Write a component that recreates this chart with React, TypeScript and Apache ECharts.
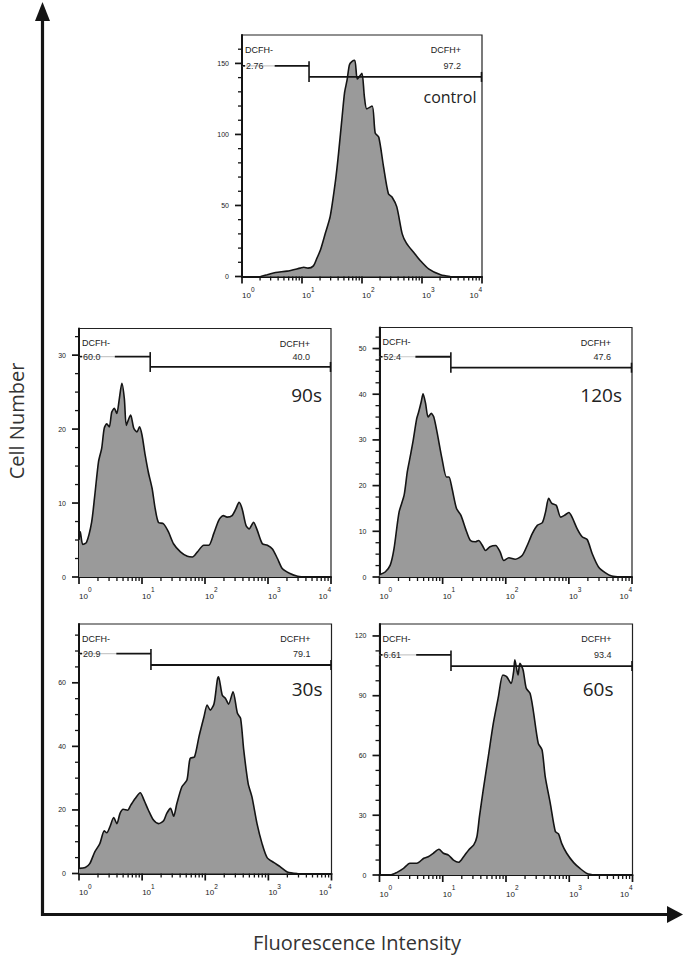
import React, { useEffect, useRef } from "react";
import * as echarts from "echarts";

// ---------------- data ----------------
const panelNames = ["control", "90s", "120s", "30s", "60s"];
const negGateLabel = "DCFH-";
const posGateLabel = "DCFH+";
const negPercent = ["2.76", "60.0", "52.4", "20.9", "6.61"];
const posPercent = ["97.2", "40.0", "47.6", "79.1", "93.4"];
const xAxisTitle = "Fluorescence Intensity";
const yAxisTitle = "Cell Number";

const yMax = [170, 33.6, 54.6, 78.5, 126];
const yMajorTicks = [
  [0, 50, 100, 150],
  [0, 10, 20, 30],
  [0, 10, 20, 30, 40, 50],
  [0, 20, 40, 60],
  [0, 30, 60, 90, 120],
];
const yMinorStep = [10, 2.5, 2.5, 5, 7.5];
const xMin = 1;
const xMax = 10000;
const xMajorTicks = [1, 10, 100, 1000, 10000];
const xMinorTicks = [
  2, 3, 4, 5, 6, 7, 8, 9, 20, 30, 40, 50, 60, 70, 80, 90, 200, 300, 400, 500,
  600, 700, 800, 900, 2000, 3000, 4000, 5000, 6000, 7000, 8000, 9000,
];

// histograms: position in decades (log10 of intensity) and cell counts
const controlLog = [0.31, 0.42, 0.56, 0.75, 0.97, 1.03, 1.1, 1.19, 1.25, 1.31, 1.39, 1.47, 1.56, 1.61, 1.67, 1.71, 1.75, 1.79, 1.83, 1.88, 1.92, 1.96, 2.0, 2.04, 2.08, 2.17, 2.22, 2.28, 2.36, 2.44, 2.5, 2.58, 2.67, 2.74, 2.86, 2.97, 3.11, 3.31, 3.47];
const controlCount = [0, 1.2, 2.8, 3.8, 5.9, 6.5, 5.9, 7.5, 13, 19, 30.6, 42.3, 68, 87, 113, 129.6, 138, 149, 151.3, 152.2, 139, 141, 143, 126.5, 118, 120, 101, 98, 77, 58.3, 56, 49, 30, 23.5, 17, 11.3, 5.4, 1.2, 0];

const s90Log = [0.0, 0.02, 0.06, 0.12, 0.2, 0.25, 0.31, 0.36, 0.4, 0.44, 0.48, 0.52, 0.56, 0.6, 0.64, 0.68, 0.72, 0.75, 0.79, 0.82, 0.87, 0.92, 0.96, 1.0, 1.05, 1.1, 1.16, 1.21, 1.26, 1.34, 1.42, 1.5, 1.61, 1.72, 1.8, 1.88, 1.98, 2.06, 2.14, 2.22, 2.29, 2.35, 2.43, 2.49, 2.54, 2.59, 2.65, 2.7, 2.77, 2.83, 2.91, 2.99, 3.07, 3.15, 3.23, 3.34, 3.47, 3.63];
const s90Count = [5.0, 6.1, 4.4, 4.7, 7.4, 11, 15.6, 17.4, 20.1, 20.7, 20.3, 22.3, 22.8, 22.1, 24.1, 26.2, 24.1, 20.5, 21.4, 21.9, 20.1, 19.6, 20.3, 19.2, 16.5, 14.2, 12, 9.2, 7.4, 7.2, 6.1, 4.5, 3.4, 2.8, 2.7, 3.4, 4.3, 4.3, 5.9, 7.7, 8.3, 8.1, 8.3, 9.2, 10.1, 9.2, 7, 6.5, 7.4, 6.3, 4.5, 4.3, 3.8, 2.5, 1.1, 0.5, 0.1, 0];

const s120Log = [0.0, 0.09, 0.17, 0.23, 0.31, 0.39, 0.44, 0.49, 0.53, 0.59, 0.62, 0.66, 0.69, 0.73, 0.77, 0.82, 0.86, 0.91, 0.99, 1.06, 1.1, 1.15, 1.22, 1.29, 1.38, 1.44, 1.52, 1.57, 1.63, 1.68, 1.75, 1.84, 1.91, 1.97, 2.05, 2.15, 2.26, 2.34, 2.42, 2.5, 2.58, 2.63, 2.68, 2.73, 2.8, 2.87, 2.93, 3.0, 3.05, 3.13, 3.21, 3.29, 3.37, 3.47, 3.58, 3.68, 3.82];
const s120Count = [0.5, 1.1, 2.6, 6.2, 14.2, 17.9, 23, 26.6, 29.6, 34.7, 36.1, 38.3, 40.1, 38, 35, 35.8, 35, 31.8, 25.9, 21.9, 21.9, 19.3, 15, 13.5, 9.9, 8, 7.7, 8, 6.9, 5.8, 6.6, 6.9, 5.5, 3.6, 4.2, 3.9, 4.7, 6.9, 9.5, 11.3, 11.9, 14.2, 17.2, 16.1, 15.7, 13.1, 13.5, 14.1, 13.1, 10.6, 8.8, 8.2, 5.1, 2.2, 0.9, 0.2, 0];

const s30Log = [0.0, 0.1, 0.17, 0.25, 0.33, 0.4, 0.44, 0.49, 0.55, 0.6, 0.65, 0.7, 0.77, 0.82, 0.89, 0.97, 1.03, 1.1, 1.18, 1.26, 1.34, 1.39, 1.45, 1.5, 1.55, 1.63, 1.71, 1.76, 1.83, 1.9, 1.98, 2.03, 2.08, 2.14, 2.19, 2.21, 2.27, 2.32, 2.37, 2.44, 2.51, 2.56, 2.61, 2.68, 2.74, 2.82, 2.9, 2.98, 3.09, 3.19, 3.3, 3.46];
const s30Count = [1.6, 1.9, 3.1, 6.8, 9.4, 13.4, 12.8, 14.7, 17.6, 15.7, 18.9, 20.2, 19.9, 21.5, 23.6, 25.4, 23.1, 19.9, 16.8, 15.7, 16.6, 18.9, 20.5, 18, 22, 27.3, 29.4, 36.2, 36.7, 43, 49.3, 53, 51.4, 53.5, 60.8, 61.9, 56.1, 55.1, 53.3, 57.2, 50.4, 48.8, 38.8, 28.3, 24.1, 15.7, 9.4, 5, 3.4, 2.1, 0.5, 0];

const s60Log = [0.0, 0.17, 0.27, 0.38, 0.48, 0.59, 0.7, 0.77, 0.85, 0.94, 1.01, 1.09, 1.17, 1.25, 1.33, 1.41, 1.49, 1.54, 1.58, 1.64, 1.72, 1.8, 1.88, 1.95, 2.01, 2.08, 2.12, 2.14, 2.19, 2.22, 2.27, 2.32, 2.38, 2.43, 2.51, 2.57, 2.62, 2.7, 2.78, 2.83, 2.88, 2.96, 3.07, 3.17, 3.28, 3.41];
const s60Count = [0, 0, 1.2, 3.3, 5.9, 5.9, 8.4, 9.2, 10.9, 12.9, 10.9, 10, 7.5, 6.4, 9.2, 12.6, 15.1, 19.2, 29.3, 42.7, 59.4, 76.2, 89.5, 100.4, 99.6, 96.2, 102, 108, 100.4, 106.3, 102.9, 93.7, 91.2, 82.8, 66.1, 62.8, 49.4, 36, 21.8, 20.6, 15.9, 10.9, 6.2, 3.3, 0.8, 0];

const histLogs = [controlLog, s90Log, s120Log, s30Log, s60Log];
const histCounts = [controlCount, s90Count, s120Count, s30Count, s60Count];

// gates (intensity units / count units)
const gateSplit = [13.1, 13.5, 13.5, 13.8, 13.5];
const gateDarkStart = [3.5, 3.7, 3.7, 3.9, 3.8];
const gateNegLevel = [148.3, 29.8, 48.2, 69.2, 110.5];
const gatePosLevel = [140.5, 28.4, 45.8, 65.6, 104.9];

// ---------------- layout ----------------
const layout = [
  { left: 242, top: 35, width: 240, height: 241.5, labelRight: 5.5, labelDy: 62, labelSize: 16 },
  { left: 79, top: 328.5, width: 252, height: 248.5, labelRight: 9, labelDy: 66.5, labelSize: 19 },
  { left: 379.5, top: 327.5, width: 252.5, height: 249.5, labelRight: 10, labelDy: 67.5, labelSize: 19 },
  { left: 79, top: 624, width: 252.5, height: 249.5, labelRight: 9, labelDy: 65, labelSize: 19 },
  { left: 379.5, top: 624, width: 253, height: 251, labelRight: 19, labelDy: 65, labelSize: 19 },
];

const INK = "#141414";
const SMALL_FONT = '"Liberation Sans", Arial, sans-serif';
const TITLE_FONT = '"Open Sans", "Noto Sans", sans-serif';
const MAJOR_LEN = 7;
const MINOR_LEN = 4;

function minorValues(max: number, step: number, majors: number[]) {
  const out: number[] = [];
  for (let v = step; v < max; v += step) {
    if (!majors.some((m) => Math.abs(m - v) < 1e-6)) out.push(v);
  }
  return out;
}

export default function App() {
  const ref = useRef<HTMLDivElement>(null);

  useEffect(() => {
    if (!ref.current) return;
    const chart = echarts.init(ref.current, undefined, { renderer: "svg" });

    const grids: any[] = [];
    const xAxes: any[] = [];
    const yAxes: any[] = [];
    const series: any[] = [];

    layout.forEach((L, i) => {
      grids.push({
        left: L.left,
        top: L.top,
        width: L.width,
        height: L.height,
        show: true,
        borderColor: "#222",
        borderWidth: 1.2,
        backgroundColor: "transparent",
        containLabel: false,
      });
      xAxes.push({
        type: "log",
        logBase: 10,
        gridIndex: i,
        position: "bottom",
        min: xMin,
        max: xMax,
        axisLine: { show: true, onZero: false, lineStyle: { color: INK, width: 2 } },
        axisTick: { show: false },
        splitLine: { show: false },
        axisLabel: {
          show: true,
          margin: 9,
          align: "left",
          alignMaxLabel: "right",
          formatter: (v: number) => `{b|10}{s|${Math.round(Math.log10(v))}}`,
          rich: {
            b: { fontSize: 8, lineHeight: 20, fontFamily: SMALL_FONT, color: "#1a1a1a" },
            s: { fontSize: 6.5, lineHeight: 7, verticalAlign: "top", fontFamily: SMALL_FONT, color: "#1a1a1a" },
          },
        },
      });
      yAxes.push({
        type: "value",
        gridIndex: i,
        position: "left",
        min: 0,
        max: yMax[i],
        axisLine: { show: true, onZero: false, lineStyle: { color: INK, width: 2 } },
        axisTick: { show: false },
        axisLabel: {
          show: true,
          customValues: yMajorTicks[i],
          margin: 13,
          fontSize: 7,
          fontFamily: SMALL_FONT,
          color: "#1a1a1a",
        },
        splitLine: { show: false },
      });
      series.push({
        type: "line",
        name: panelNames[i],
        xAxisIndex: i,
        yAxisIndex: i,
        data: histLogs[i].map((d, k) => [Math.pow(10, d), histCounts[i][k]]),
        showSymbol: false,
        symbol: "none",
        smooth: 0.25,
        lineStyle: { color: INK, width: 1.6 },
        areaStyle: { color: "#9a9a9a", opacity: 1 },
        z: 2,
      });
    });

    chart.setOption({
      animation: false,
      backgroundColor: "#ffffff",
      grid: grids,
      xAxis: xAxes,
      yAxis: yAxes,
      series,
    });

    const g: any[] = [];
    const line = (x1: number, y1: number, x2: number, y2: number, stroke: string, lw: number) => ({
      type: "line",
      z: 100,
      shape: { x1, y1, x2, y2 },
      style: { stroke, lineWidth: lw },
    });
    const text = (x: number, y: number, t: string, font: string, align: string, fill: string, extra: any = {}) => ({
      type: "text",
      z: 101,
      x,
      y,
      ...extra,
      style: {
        text: t,
        font,
        fill,
        align,
        textAlign: align,
        verticalAlign: "middle",
        textVerticalAlign: "middle",
      },
    });

    layout.forEach((L, i) => {
      const toPx = (x: number, y: number) => chart.convertToPixel({ seriesIndex: i }, [x, y]) as number[];
      const right = L.left + L.width;
      const bottom = L.top + L.height;

      // ticks: log decades with 2..9 minors on x, linear majors/minors on y
      xMajorTicks.forEach((v) => {
        const p = toPx(v, 0);
        g.push(line(p[0], bottom, p[0], bottom + MAJOR_LEN, INK, 1.7));
      });
      xMinorTicks.forEach((v) => {
        const p = toPx(v, 0);
        g.push(line(p[0], bottom, p[0], bottom + MINOR_LEN, INK, 1.3));
      });
      yMajorTicks[i].forEach((v) => {
        const p = toPx(xMin, v);
        g.push(line(L.left - MAJOR_LEN, p[1], L.left, p[1], INK, 1.7));
      });
      minorValues(yMax[i], yMinorStep[i], yMajorTicks[i]).forEach((v) => {
        const p = toPx(xMin, v);
        g.push(line(L.left - MINOR_LEN, p[1], L.left, p[1], INK, 1.3));
      });

      // gates
      const a = toPx(xMin, gateNegLevel[i]);
      const b = toPx(gateDarkStart[i], gateNegLevel[i]);
      const c = toPx(gateSplit[i], gateNegLevel[i]);
      const d = toPx(gateSplit[i], gatePosLevel[i]);
      const e = toPx(xMax, gatePosLevel[i]);
      g.push(line(a[0], a[1], b[0], b[1], "#c9c9c9", 1.2));
      g.push(line(a[0], a[1], a[0] + 3, a[1], INK, 1.6));
      g.push(line(b[0], b[1], c[0], c[1], INK, 1.8));
      g.push(line(c[0], c[1] - 4.5, d[0], d[1] + 5, INK, 1.6));
      g.push(line(d[0], d[1], e[0], e[1], INK, 1.8));
      g.push(line(e[0] - 0.5, e[1] - 5, e[0] - 0.5, e[1] + 5, INK, 1.6));

      g.push(text(L.left + 3, L.top + 14.5, negGateLabel, `9px ${SMALL_FONT}`, "left", "#1a1a1a"));
      g.push(text(L.left + 4, a[1], negPercent[i], `9px ${SMALL_FONT}`, "left", "#2a2a2a"));
      g.push(text(right - 21, L.top + 15, posGateLabel, `9px ${SMALL_FONT}`, "right", "#1a1a1a"));
      g.push(text(right - 21, a[1], posPercent[i], `9px ${SMALL_FONT}`, "right", "#2a2a2a"));
      g.push(text(right - L.labelRight, L.top + L.labelDy, panelNames[i], `${L.labelSize}px ${TITLE_FONT}`, "right", "#222"));
    });

    // big axes with arrows and their titles
    g.push(line(42.5, 18, 42.5, 916, INK, 3.2));
    g.push({ type: "polygon", z: 100, shape: { points: [[42.5, 2], [35, 21], [50, 21]] }, style: { fill: INK } });
    g.push(line(41, 914.5, 670, 914.5, INK, 3.2));
    g.push({ type: "polygon", z: 100, shape: { points: [[683, 914.5], [667, 906], [667, 923]] }, style: { fill: INK } });
    g.push(text(16, 421, yAxisTitle, `20px ${TITLE_FONT}`, "center", "#333", { rotation: Math.PI / 2 }));
    g.push(text(357, 942, xAxisTitle, `20px ${TITLE_FONT}`, "center", "#333"));

    chart.setOption({ graphic: g });

    return () => chart.dispose();
  }, []);

  return (
    <div
      ref={ref}
      style={{ position: "fixed", left: 0, top: 0, width: 685, height: 966, background: "#fff" }}
    />
  );
}
